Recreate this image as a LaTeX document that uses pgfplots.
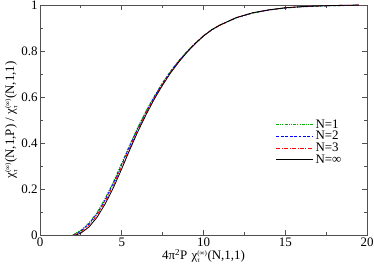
\documentclass[border=0pt]{standalone}
\usepackage{fontspec}
\setmainfont{Liberation Serif}
\usepackage{pgfplots}
\pgfplotsset{compat=1.18}
\usepackage{pgfplotstable}

\pgfplotstableread{
x y
2.0 0
2.5 0.020
3.0 0.053
3.5 0.099
4.0 0.161
4.5 0.233
5.0 0.313
5.5 0.394
6.0 0.471
6.5 0.541
7.0 0.605
7.5 0.663
8.0 0.714
8.5 0.759
9.0 0.799
9.5 0.835
10 0.866
10.5 0.892
11 0.912
12 0.944
13 0.965
14 0.978
15 0.987
16 0.992
17 0.995
18 0.997
19 0.998
19.5 0.999
}\tabNone

\pgfplotstableread{
x y
2.05 0
2.5 0.017
3.0 0.049
3.5 0.094
4.0 0.155
4.5 0.227
5.0 0.307
5.5 0.389
6.0 0.467
6.5 0.538
7.0 0.602
7.5 0.660
8.0 0.712
8.5 0.758
9.0 0.798
9.5 0.834
10 0.866
10.5 0.892
11 0.912
12 0.944
13 0.965
14 0.978
15 0.987
16 0.992
17 0.995
18 0.997
19 0.998
19.5 0.999
}\tabNtwo

\pgfplotstableread{
x y
2.1 0
2.5 0.013
3.0 0.043
3.5 0.087
4.0 0.147
4.5 0.218
5.0 0.298
5.5 0.381
6.0 0.460
6.5 0.532
7.0 0.597
7.5 0.656
8.0 0.709
8.5 0.756
9.0 0.797
9.5 0.833
10 0.866
10.5 0.892
11 0.912
12 0.945
13 0.966
14 0.979
15 0.988
16 0.993
17 0.996
18 0.998
19 0.999
19.5 1.0
}\tabNthree

\pgfplotstableread{
x y
2.2 0
2.5 0.008
3.0 0.035
3.5 0.078
4.0 0.137
4.5 0.207
5.0 0.288
5.5 0.372
6.0 0.452
6.5 0.525
7.0 0.592
7.5 0.652
8.0 0.706
8.5 0.753
9.0 0.795
9.5 0.832
10 0.865
10.5 0.892
11 0.913
12 0.945
13 0.966
14 0.979
15 0.988
16 0.993
17 0.996
18 0.998
19 0.999
19.5 1.0
}\tabNinf

\definecolor{ggreen}{RGB}{0,175,0}
\definecolor{frame}{RGB}{80,80,80}

\newcommand\chisym{\mbox{χ}_{\mbox{\scriptsize τ}}^{\mbox{\scriptsize (∞)}}}

\begin{document}
\begin{tikzpicture}
\path[use as bounding box] (-40bp,-34bp) rectangle (334bp,235bp);
\begin{axis}[
  at={(0,0)}, anchor=south west,
  scale only axis,
  width=327bp, height=230bp,
  xmin=0, xmax=20, ymin=0, ymax=1,
  xtick={0,5,10,15,20},
  ytick={0,0.2,0.4,0.6,0.8,1},
  minor x tick num=1,
  minor y tick num=1,
  tick align=inside,
  major tick length=5bp,
  minor tick length=3bp,
  axis line style={frame, line width=0.8pt},
  every tick/.style={frame, line width=0.8pt},
  tick label style={font=\fontsize{13}{13}\selectfont},
  xticklabel style={yshift=1bp},
  yticklabel style={xshift=1bp},
  /pgf/number format/assume math mode=true,
  xlabel={4π\textsuperscript{2}P\,\,$\chisym$(N,1,1)},
  ylabel={$\chisym$(N,1,P) / $\chisym$(N,1,1)},
  label style={font=\fontsize{13}{14}\selectfont},
  xlabel style={yshift=4bp},
  ylabel style={yshift=-3bp},
  legend style={draw=none, fill=none, at={(axis cs:14.4,0.51)}, anchor=north west,
    font=\fontsize{13}{13}\selectfont, row sep=-2.5bp, inner sep=0pt},
  legend cell align=left,
  legend image code/.code={\draw[#1] (0bp,0bp) -- (37bp,0bp);},
]
\addplot[color=ggreen, line width=0.9pt, dash pattern=on 3pt off 1.2pt on 1pt off 1.2pt on 1pt off 1.2pt] table {\tabNone};
\addlegendentry{N=1}
\addplot[color=blue, line width=0.8pt, dash pattern=on 3pt off 1.5pt] table {\tabNtwo};
\addlegendentry{N=2}
\addplot[color=red, line width=0.8pt, dash pattern=on 4pt off 1.5pt on 1pt off 1.5pt] table {\tabNthree};
\addlegendentry{N=3}
\addplot[color=black, line width=0.8pt] table {\tabNinf};
\addlegendentry{N=∞}
\end{axis}
\end{tikzpicture}
\end{document}
